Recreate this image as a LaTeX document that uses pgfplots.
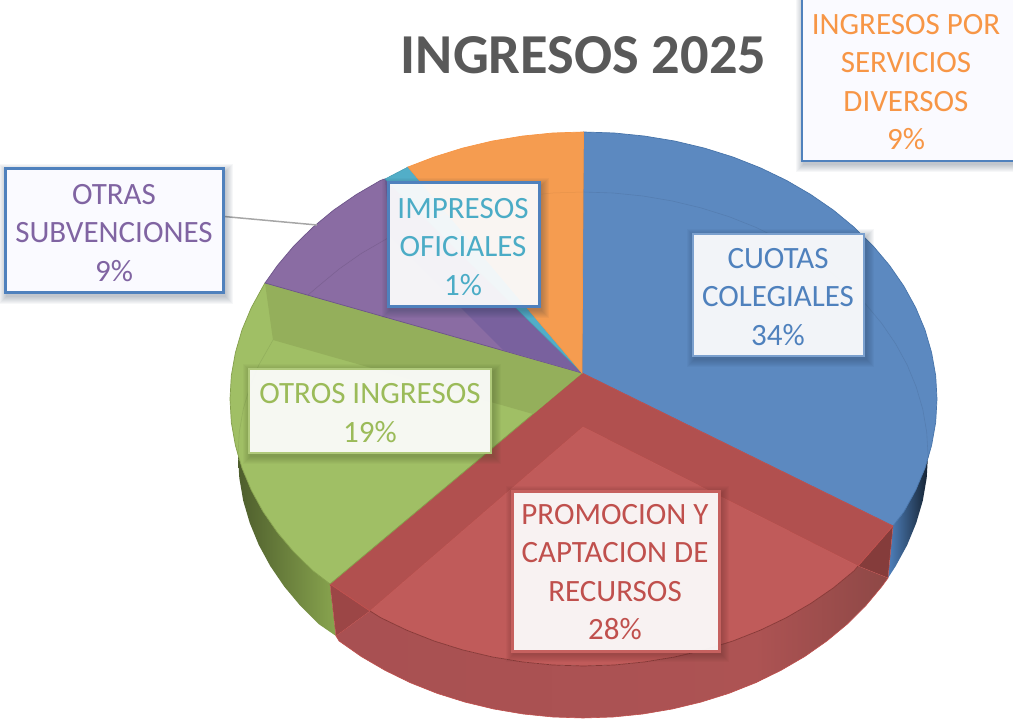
\documentclass[border=0pt]{standalone}
\usepackage{pgfplots}
\pgfplotsset{compat=1.18}
\usepackage{fontspec}
\setmainfont{Carlito}
\definecolor{cblue}{HTML}{4F81BD}
\definecolor{cred}{HTML}{C0504D}
\definecolor{cgreen}{HTML}{9BBB59}
\definecolor{cpurple}{HTML}{8064A2}
\definecolor{cteal}{HTML}{4BACC6}
\definecolor{corange}{HTML}{F79646}
\definecolor{fblue}{HTML}{5C89C0}
\definecolor{fred}{HTML}{C05B5A}
\definecolor{bred}{HTML}{B1504F}
\definecolor{fgreen}{HTML}{A0BF65}
\definecolor{bgreen}{HTML}{94AF5B}
\definecolor{fpurple}{HTML}{8A6CA3}
\definecolor{dpurple}{HTML}{79619E}
\definecolor{fteal}{HTML}{52AEC8}
\definecolor{forange}{HTML}{F59C50}
\definecolor{wa}{HTML}{A85052}
\definecolor{wb}{HTML}{B95757}
\definecolor{wc}{HTML}{AD5353}
\definecolor{wd}{HTML}{8E4846}
\tikzset{lab/.style={inner sep=0pt,align=center,font=\fontsize{31}{38.4}\selectfont}}
\newcommand{\shlayer}[6]{\fill[#5,opacity=.04] ([xshift={(2-#6)*1pt},yshift={(-3+#6)*1pt}]axis cs:#1,#2) rectangle ([xshift={(2+#6)*1pt},yshift={(-3-#6)*1pt}]axis cs:#3,#4);}
\newcommand{\lbox}[7]{%
 \shlayer{#1}{#2}{#3}{#4}{#5}{8}\shlayer{#1}{#2}{#3}{#4}{#5}{7}%
 \shlayer{#1}{#2}{#3}{#4}{#5}{6}\shlayer{#1}{#2}{#3}{#4}{#5}{5}\shlayer{#1}{#2}{#3}{#4}{#5}{4}%
 \shlayer{#1}{#2}{#3}{#4}{#5}{3}\shlayer{#1}{#2}{#3}{#4}{#5}{2}\shlayer{#1}{#2}{#3}{#4}{#5}{1}%
 \fill[white,opacity=.93] (axis cs:#1,#2) rectangle (axis cs:#3,#4);
 \draw[#6,line width=#7pt] (axis cs:#1,#2) rectangle (axis cs:#3,#4);
}
\begin{document}
\begin{tikzpicture}
\clip (0,0) rectangle (1013pt,719pt);
\begin{axis}[at={(0,0)},anchor=south west,scale only axis,width=1013pt,height=719pt,
 xmin=0,xmax=1013,ymin=0,ymax=719,y dir=reverse,hide axis,clip=false]
% side walls
\addplot[draw=none,left color=cblue,right color=black!75!cblue] coordinates {(929,455)(925,468.1)(915.7,490.3)(903.9,511.8)(893,526)(888,578)(895.7,566.1)(907.2,545)(916.2,523.1)(922.8,500.7)(926.7,477.9)(928,455)} --cycle;
\addplot[draw=none,left color=black!50!cgreen,right color=black!12!cgreen] coordinates {(330,584)(312.7,570.6)(293.9,552.1)(277.4,532.5)(263.1,511.8)(251.3,490.3)(242,468.1)(238,455)(239.3,477.9)(243.2,500.7)(249.8,523.1)(258.8,545)(270.3,566.1)(284.2,586.5)(300.4,605.9)(318.7,624.1)(336,636)} --cycle;
\addplot[draw=none,left color=wa,middle color=wb,right color=wc] coordinates {(370,611)(380.7,617.7)(406.7,630.2)(434.1,641)(462.6,649.9)(492,656.9)(522.1,661.9)(552.7,665)(583.5,666)(614.3,665)(644.9,661.9)(675,656.9)(704.4,649.9)(732.9,641)(760.3,630.2)(766,627.5)(761,680)(755.5,682.8)(728.8,693.4)(701,702.1)(672.3,709)(642.9,714)(613.1,717)(583,718)(552.9,717)(523.1,714)(493.7,709)(465,702.1)(437.2,693.4)(410.5,682.8)(385.1,670.4)(361.2,656.5)(339.1,641)(336,636)} --cycle;
\addplot[draw=none,left color=wc,right color=wd] coordinates {(760.3,630.2)(786.3,617.7)(810.7,603.5)(833.5,587.8)(854.3,570.6)(858,566)(888,578)(881.8,586.5)(865.6,605.9)(847.3,624.1)(826.9,641)(804.8,656.5)(780.9,670.4)(755.5,682.8)} --cycle;
\addplot[draw=cred,line width=.6pt] coordinates {(336,636)(339.1,641)(361.2,656.5)(385.1,670.4)(410.5,682.8)(437.2,693.4)(465,702.1)(493.7,709)(523.1,714)(552.9,717)(583,718)(613.1,717)(642.9,714)(672.3,709)(701,702.1)(728.8,693.4)(755.5,682.8)(780.9,670.4)(804.8,656.5)(826.9,641)(847.3,624.1)(865.6,605.9)(881.8,586.5)(888,578)};
\addplot[draw=cred,line width=.4pt,fill=black!12!bred] coordinates {(330,584)(370,611)(336,636)} --cycle;
\addplot[draw=cred,line width=.4pt,fill=black!25!bred] coordinates {(893,526)(858,566)(888,578)} --cycle;
% top faces
\addplot[draw=black!10!cblue,line width=.7pt,fill=fblue] coordinates {(582,373)(583.5,132)(614.3,133)(644.9,136.1)(675,141.1)(704.4,148.1)(732.9,157)(760.3,167.8)(786.3,180.3)(810.7,194.5)(833.5,210.2)(854.3,227.4)(873.1,245.9)(889.6,265.5)(903.9,286.2)(915.7,307.7)(925,329.9)(931.6,352.6)(935.7,375.7)(937,399)(935.7,422.3)(931.6,445.4)(925,468.1)(915.7,490.3)(903.9,511.8)(893,526)} --cycle;
\addplot[draw=black!8!fblue,line width=.6pt] coordinates {(583,192)(613.1,193)(642.9,196)(672.3,201)(701,207.9)(728.8,216.6)(755.5,227.2)(780.9,239.6)(804.8,253.5)(826.9,269)(847.3,285.9)(865.6,304.1)(881.8,323.5)(895.7,343.9)(907.2,365)(916.2,386.9)(922.8,409.3)(926.7,432.1)(928,455)};
% red
\addplot[draw=cred,line width=.7pt,fill=bred] coordinates {(582,373)(893,526)(858,566)(583,427)(370,611)(330,584)} --cycle;
\addplot[draw=none,fill=fred] coordinates {(583,427)(370,611)(380.7,617.7)(406.7,630.2)(434.1,641)(462.6,649.9)(492,656.9)(522.1,661.9)(552.7,665)(583.5,666)(614.3,665)(644.9,661.9)(675,656.9)(704.4,649.9)(732.9,641)(760.3,630.2)(786.3,617.7)(810.7,603.5)(833.5,587.8)(854.3,570.6)(858,566)} --cycle;
\addplot[draw=black!30!cred,line width=.7pt] coordinates {(370,611)(380.7,617.7)(406.7,630.2)(434.1,641)(462.6,649.9)(492,656.9)(522.1,661.9)(552.7,665)(583.5,666)(614.3,665)(644.9,661.9)(675,656.9)(704.4,649.9)(732.9,641)(760.3,630.2)(786.3,617.7)(810.7,603.5)(833.5,587.8)(854.3,570.6)(858,566)};
% green
\addplot[draw=black!15!cgreen,line width=.7pt,fill=fgreen] coordinates {(582,373)(330,584)(312.7,570.6)(293.9,552.1)(277.4,532.5)(263.1,511.8)(251.3,490.3)(242,468.1)(235.4,445.4)(231.3,422.3)(230,399)(231.3,375.7)(235.4,352.6)(242,329.9)(251.3,307.7)(263.1,286.2)(265,283)} --cycle;
\addplot[draw=none,fill=bgreen] coordinates {(582,373)(265,283)(273,340)(533,414)} --cycle;
\addplot[draw=black!8!fgreen,line width=.6pt] coordinates {(273,340)(258.8,365)(249.8,386.9)(243.2,409.3)(239.3,432.1)(238,455)};
% purple
\addplot[draw=black!15!cpurple,line width=.7pt,fill=fpurple] coordinates {(582,373)(265,283)(277.4,265.5)(293.9,245.9)(312.7,227.4)(333.5,210.2)(356.3,194.5)(380.7,180.3)(385,179)} --cycle;
\addplot[draw=none,fill=dpurple] coordinates {(503,350)(390,237)(385,179)(582,373)} --cycle;
\addplot[draw=black!10!fpurple,line width=.6pt] coordinates {(308,295)(318.7,285.9)(339.1,269)(361.2,253.5)(388,238)};
% teal
\addplot[draw=black!10!cteal,line width=.5pt,fill=fteal] coordinates {(582,373)(385,179)(408,167)} --cycle;
% orange
\addplot[draw=corange,line width=.7pt,fill=forange] coordinates {(582,373)(408,167)(434.1,157)(462.6,148.1)(492,141.1)(522.1,136.1)(552.7,133)(583.5,132)} --cycle;
\addplot[draw=black!6!forange,line width=.5pt] coordinates {(583,192)(552.9,193)(523.1,196)(493.7,201)(465,207.9)(437.2,216.6)};
% leader
\addplot[draw=black!35,line width=1.5pt] coordinates {(224,216.5)(317,225)};
% title
\node[font=\fontsize{56.4}{60}\selectfont\bfseries,text=black!65,inner sep=0pt] at (axis cs:583.5,55) {INGRESOS 2025};
% boxes
\lbox{802}{-5}{1030}{161}{black!60!cblue}{cblue}{3}
\fill[fill=blue!2!white] (axis cs:803,-3) rectangle (axis cs:1030,160);
\node[lab,text=corange] at (axis cs:906,82) {INGRESOS POR\\SERVICIOS\\DIVERSOS\\9\%};
\lbox{5}{169}{223}{293}{black!60!cblue}{cblue}{3}
\fill[fill=blue!2!white] (axis cs:6.5,170.5) rectangle (axis cs:221.5,291.5);
\node[lab,text=cpurple] at (axis cs:114,233) {OTRAS\\SUBVENCIONES\\9\%};
\lbox{388}{183}{539}{307}{black!60!cblue}{cblue}{3}
\node[lab,text=cteal] at (axis cs:463,247) {IMPRESOS\\OFICIALES\\1\%};
\lbox{693}{234}{864}{356}{black!60!cblue}{cblue!75!white}{2.5}
\node[lab,text=cblue] at (axis cs:778,297) {CUOTAS\\COLEGIALES\\34\%};
\lbox{249}{369}{491}{453}{black!60!cgreen}{cgreen!80!white}{2.5}
\node[lab,text=cgreen] at (axis cs:370,413) {OTROS INGRESOS\\19\%};
\lbox{512}{491}{719}{651}{black!60!cred}{cred!90!white}{3}
\node[lab,text=cred] at (axis cs:615,572) {PROMOCION Y\\CAPTACION DE\\RECURSOS\\28\%};
\end{axis}
\end{tikzpicture}
\end{document}
